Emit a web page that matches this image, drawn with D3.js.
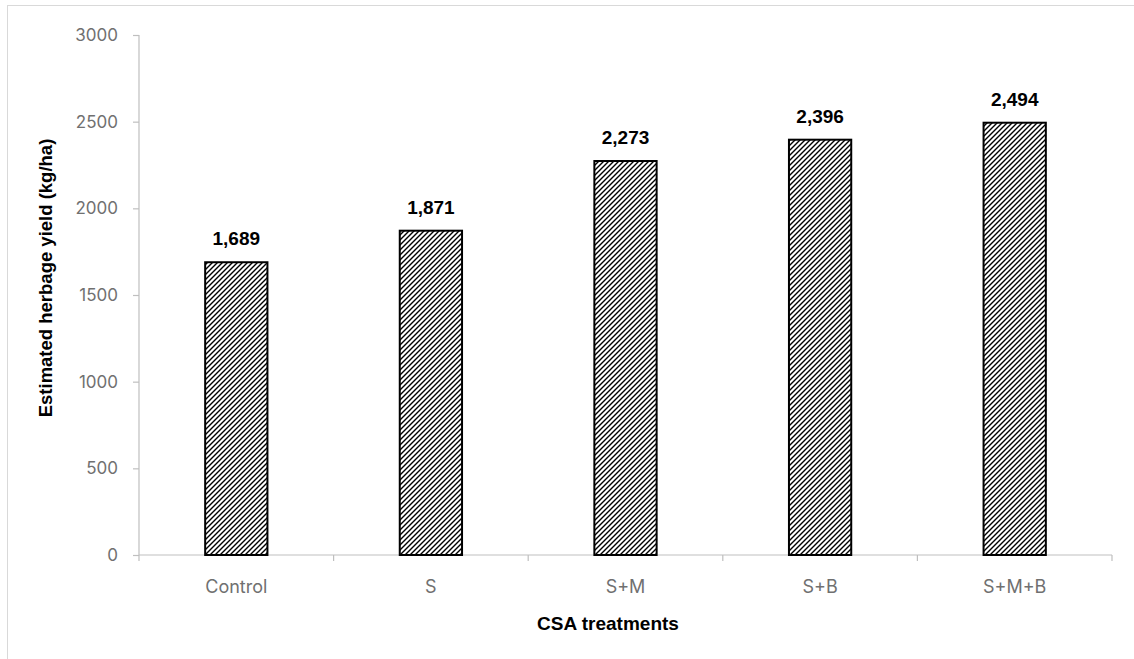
<!DOCTYPE html>
<html><head><meta charset="utf-8">
<script src="https://cdn.jsdelivr.net/npm/d3@7"></script>
<style>body{margin:0;background:#fff}svg{display:block}</style>
</head><body>
<svg id="c" width="1134" height="659"></svg>
<script>
const categories = ["Control","S","S+M","S+B","S+M+B"];
const yieldValues = [1689,1871,2273,2396,2494];
const yTicks = [0,500,1000,1500,2000,2500,3000];

const svg = d3.select("#c");
const W=1134,H=659;
const m={left:139,right:22,top:35,bottom:104};
const x0=m.left,x1=W-m.right,y0=H-m.bottom,y1=m.top;

// chart border
svg.append("rect").attr("x",7.5).attr("y",5.5).attr("width",W+10).attr("height",H+10)
  .attr("fill","none").attr("stroke","#d9d9d9").attr("stroke-width",1);

const defs=svg.append("defs");
const P=5;
const pat=defs.append("pattern").attr("id","hatch").attr("patternUnits","userSpaceOnUse")
  .attr("width",P).attr("height",P);
pat.append("rect").attr("width",P).attr("height",P).attr("fill","#fff");
pat.append("path").attr("d",`M-1,1 l2,-2 M0,${P} l${P},-${P} M${P-1},${P+1} l2,-2`)
  .attr("stroke","#000").attr("stroke-width",1.4);

const x=d3.scaleBand().domain(categories).range([x0,x1]);
const y=d3.scaleLinear().domain([0,3000]).range([y0,y1]);

const tickFont="Inter, 'Open Sans', sans-serif";
const boldFont="'Liberation Sans', Arial, sans-serif";

// y axis
const ya=svg.append("g").attr("transform",`translate(${x0},0)`)
  .call(d3.axisLeft(y).tickValues(yTicks).tickSize(6).tickPadding(15).tickFormat(d3.format("d")));
ya.select(".domain").attr("stroke","#bfbfbf").attr("d",`M0,${y0}V${y1}`).attr("stroke-width",1.2);
ya.selectAll(".tick line").attr("stroke","#bfbfbf").attr("stroke-width",1.2);
ya.selectAll(".tick text").attr("fill","#707070").style("font-family",tickFont).style("font-size","17px");

// x axis
const xa=svg.append("g").attr("transform",`translate(0,${y0})`);
xa.append("line").attr("x1",x0).attr("x2",x1).attr("y1",0).attr("y2",0).attr("stroke","#bfbfbf").attr("stroke-width",1.2);
const bounds=categories.map(c=>x(c)).concat([x1]);
xa.selectAll("line.tk").data(bounds).join("line").attr("class","tk")
  .attr("x1",d=>d).attr("x2",d=>d).attr("y1",0).attr("y2",6).attr("stroke","#bfbfbf").attr("stroke-width",1.2);
xa.selectAll("text").data(categories).join("text")
  .attr("x",d=>x(d)+x.bandwidth()/2).attr("y",38).attr("text-anchor","middle")
  .attr("fill","#707070").style("font-family",tickFont).style("font-size","18px").text(d=>d);

// bars
const bw=x.bandwidth()*0.32;
svg.selectAll("rect.bar").data(yieldValues).join("rect").attr("class","bar")
  .attr("x",(d,i)=>x(categories[i])+x.bandwidth()/2-bw/2)
  .attr("y",d=>y(d)).attr("width",bw).attr("height",d=>y0-y(d))
  .attr("fill","url(#hatch)").attr("stroke","#000").attr("stroke-width",2);

// value labels
svg.selectAll("text.val").data(yieldValues).join("text").attr("class","val")
  .attr("x",(d,i)=>x(categories[i])+x.bandwidth()/2).attr("y",d=>y(d)-17)
  .attr("text-anchor","middle").style("font-family",boldFont)
  .style("font-weight","bold").style("font-size","19px").attr("fill","#000")
  .text(d=>d3.format(",")(d));

// axis titles
svg.append("text").attr("x",608).attr("y",630).attr("text-anchor","middle")
  .style("font-family",boldFont).style("font-weight","bold").style("font-size","19px")
  .text("CSA treatments");
svg.append("text").attr("transform",`translate(52,278) rotate(-90)`).attr("text-anchor","middle")
  .style("font-family",boldFont).style("font-weight","bold").style("font-size","18.5px")
  .text("Estimated herbage yield (kg/ha)");
</script>
</body></html>
